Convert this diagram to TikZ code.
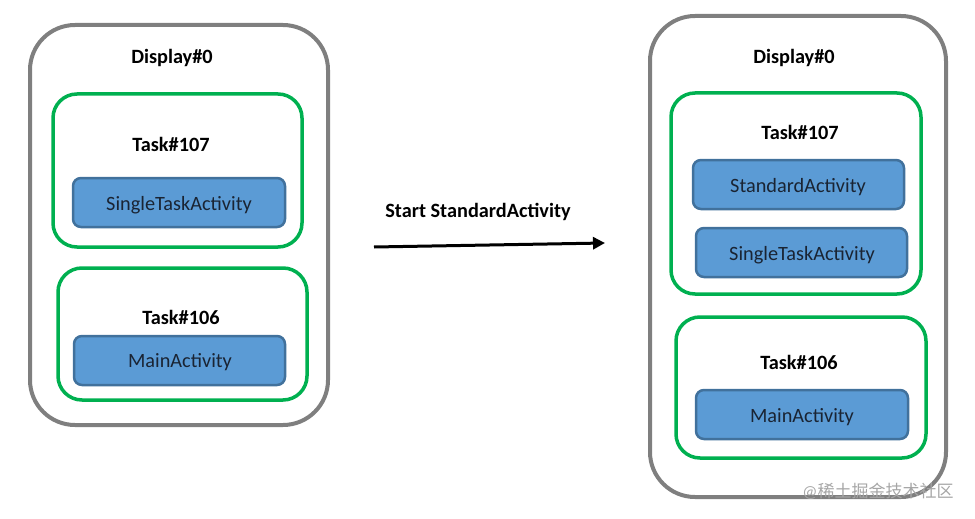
\documentclass[tikz,border=0pt]{standalone}
\usepackage{fontspec}
\setmainfont{Carlito}
\newfontfamily\cjk{Noto Sans CJK SC}
\usetikzlibrary{arrows.meta}
\definecolor{dgray}{HTML}{7F7F7F}
\definecolor{tgreen}{HTML}{00B050}
\definecolor{afill}{HTML}{5B9BD5}
\definecolor{aline}{HTML}{41719C}
\definecolor{atext}{HTML}{1A2433}
\tikzset{
  display/.style={draw=dgray, line width=4pt, rounded corners=45pt},
  taskbox/.style={draw=tgreen, line width=3.5pt, rounded corners=24pt},
  actbox/.style={draw=aline, fill=afill, line width=2.5pt, rounded corners=8pt},
  lbl/.style={font=\fontsize{20.3}{24}\selectfont\bfseries, inner sep=0pt},
  acttxt/.style={font=\fontsize{20.3}{24}\selectfont, text=atext, inner sep=0pt},
}
\begin{document}
\begin{tikzpicture}[x=1pt,y=-1pt]
\useasboundingbox (0,0) rectangle (975,519);
% left display
\draw[display] (30,25) rectangle (328,425);
\node[lbl] (d1) at (172,57.5) {Display\#0};
\draw[taskbox] (53,94) rectangle (302,247);
\node[lbl] (t107a) at (171,144) {Task\#107};
\draw[actbox] (73,178) rectangle (285,227);
\node[acttxt] (sta) at (179,205.5) {SingleTaskActivity};
\draw[taskbox] (58,268) rectangle (307,400);
\node[lbl] (t106a) at (181,317) {Task\#106};
\draw[actbox] (74,336) rectangle (285,385);
\node[acttxt] (maa) at (180,362.5) {MainActivity};
% arrow
\coordinate (as) at (374,247);
\coordinate (ae) at (605,243);
\draw[line width=3pt, -{Triangle[length=12pt,width=12pt]}] (as) -- (ae);
\node[lbl] (st) at (478,212) {Start StandardActivity};
% right display
\draw[display] (650,16) rectangle (946,497);
\node[lbl] (d2) at (794,58) {Display\#0};
\draw[taskbox] (671,93) rectangle (921,294);
\node[lbl] (t107b) at (800,132) {Task\#107};
\draw[actbox] (693,160) rectangle (904,209);
\node[acttxt] (sdb) at (798,187.5) {StandardActivity};
\draw[actbox] (696,228) rectangle (907,277);
\node[acttxt] (stb) at (802,255.5) {SingleTaskActivity};
\draw[taskbox] (676,317) rectangle (926,458);
\node[lbl] (t106b) at (799,362) {Task\#106};
\draw[actbox] (696,390) rectangle (908,439);
\node[acttxt] (mab) at (802,417.5) {MainActivity};
% watermark
\node[inner sep=0pt, text=black!35, font=\fontsize{17}{20}\selectfont] (wm) at (878,491) {@{\cjk 稀土掘金技术社区}};
\end{tikzpicture}
\end{document}
